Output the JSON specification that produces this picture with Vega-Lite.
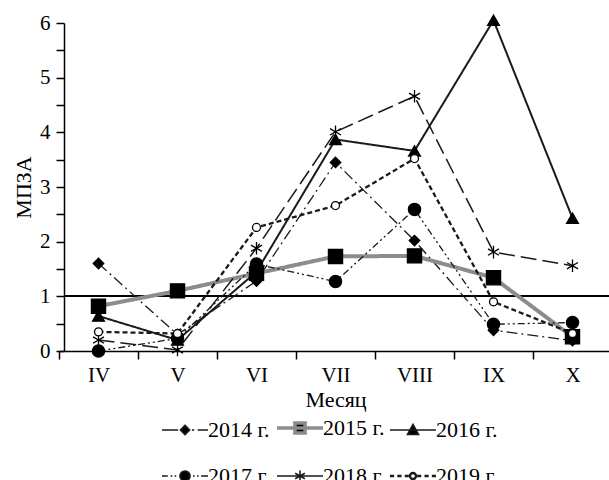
{
  "$schema": "https://vega.github.io/schema/vega-lite/v6.json",
  "width": 545,
  "height": 328,
  "autosize": {"type": "none"},
  "padding": {"left": 64, "top": 23, "right": 0, "bottom": 129},
  "background": "white",
  "config": {
    "view": {"stroke": null},
    "font": "Liberation Serif, Times New Roman, serif",
    "axis": {
      "domainColor": "black", "tickColor": "black", "labelColor": "black", "titleColor": "black",
      "domainWidth": 1.5, "tickWidth": 1.5, "tickSize": 8, "grid": false,
      "labelFont": "Liberation Serif, Times New Roman, serif", "titleFont": "Liberation Serif, Times New Roman, serif",
      "labelFontSize": 21, "titleFontSize": 22, "titleFontWeight": "normal"
    },
    "legend": {"labelFont": "Liberation Serif, Times New Roman, serif", "labelFontSize": 22, "labelColor": "black"}
  },
  "data": {"values": [
    {"month": "IV", "year": "2014 г.", "v": 1.6},
    {"month": "V", "year": "2014 г.", "v": 0.3},
    {"month": "VI", "year": "2014 г.", "v": 1.28},
    {"month": "VII", "year": "2014 г.", "v": 3.45},
    {"month": "VIII", "year": "2014 г.", "v": 2.02},
    {"month": "IX", "year": "2014 г.", "v": 0.38},
    {"month": "X", "year": "2014 г.", "v": 0.19},
    {"month": "IV", "year": "2015 г.", "v": 0.82},
    {"month": "V", "year": "2015 г.", "v": 1.1},
    {"month": "VI", "year": "2015 г.", "v": 1.42},
    {"month": "VII", "year": "2015 г.", "v": 1.73},
    {"month": "VIII", "year": "2015 г.", "v": 1.74},
    {"month": "IX", "year": "2015 г.", "v": 1.34},
    {"month": "X", "year": "2015 г.", "v": 0.26},
    {"month": "IV", "year": "2016 г.", "v": 0.64},
    {"month": "V", "year": "2016 г.", "v": 0.2},
    {"month": "VI", "year": "2016 г.", "v": 1.45},
    {"month": "VII", "year": "2016 г.", "v": 3.87},
    {"month": "VIII", "year": "2016 г.", "v": 3.66},
    {"month": "IX", "year": "2016 г.", "v": 6.05},
    {"month": "X", "year": "2016 г.", "v": 2.43},
    {"month": "IV", "year": "2017 г.", "v": 0.0},
    {"month": "V", "year": "2017 г.", "v": 0.23},
    {"month": "VI", "year": "2017 г.", "v": 1.59},
    {"month": "VII", "year": "2017 г.", "v": 1.27},
    {"month": "VIII", "year": "2017 г.", "v": 2.59},
    {"month": "IX", "year": "2017 г.", "v": 0.49},
    {"month": "X", "year": "2017 г.", "v": 0.52},
    {"month": "IV", "year": "2018 г.", "v": 0.2},
    {"month": "V", "year": "2018 г.", "v": 0.02},
    {"month": "VI", "year": "2018 г.", "v": 1.88},
    {"month": "VII", "year": "2018 г.", "v": 4.01},
    {"month": "VIII", "year": "2018 г.", "v": 4.66},
    {"month": "IX", "year": "2018 г.", "v": 1.81},
    {"month": "X", "year": "2018 г.", "v": 1.56},
    {"month": "IV", "year": "2019 г.", "v": 0.35},
    {"month": "V", "year": "2019 г.", "v": 0.32},
    {"month": "VI", "year": "2019 г.", "v": 2.26},
    {"month": "VII", "year": "2019 г.", "v": 2.66},
    {"month": "VIII", "year": "2019 г.", "v": 3.52},
    {"month": "IX", "year": "2019 г.", "v": 0.9},
    {"month": "X", "year": "2019 г.", "v": 0.32}
  ]},
  "encoding": {
    "x": {
      "field": "month", "type": "ordinal",
      "sort": ["IV", "V", "VI", "VII", "VIII", "IX", "X"],
      "scale": {"type": "band", "paddingInner": 0, "paddingOuter": 0, "range": [-5, 548]},
      "axis": {"title": "Месяц", "tickBand": "extent", "labelAngle": 0, "labelPadding": 5, "titlePadding": 4}
    },
    "y": {
      "field": "v", "type": "quantitative",
      "scale": {"domain": [0, 6], "nice": false, "zero": true},
      "axis": {
        "title": "МПЗА",
        "values": [0, 0.5, 1, 1.5, 2, 2.5, 3, 3.5, 4, 4.5, 5, 5.5, 6],
        "labelExpr": "datum.value % 1 == 0 ? format(datum.value, 'd') : ''",
        "labelPadding": 6, "titlePadding": 4
      }
    }
  },
  "layer": [
    {
      "mark": {"type": "rule", "color": "black", "strokeWidth": 1.5},
      "encoding": {"x": null, "y": {"datum": 1}}
    },
    {
      "mark": {"type": "line"},
      "encoding": {
        "color": {
          "field": "year", "type": "nominal",
          "scale": {"type": "ordinal", "domain": ["2014 г.", "2015 г.", "2016 г.", "2017 г.", "2018 г.", "2019 г."],
                    "range": ["#1a1a1a", "#8c8c8c", "#1a1a1a", "#1a1a1a", "#1a1a1a", "#1a1a1a"]},
          "legend": {
            "title": null,
            "orient": "none",
            "legendX": 110,
            "legendY": 394,
            "direction": "horizontal",
            "columns": 3,
            "columnPadding": 0,
            "rowPadding": 0,
            "symbolSize": 2116,
            "labelOffset": 12,
            "encode": {
              "symbols": {
                "update": {
                  "shape": {"signal": "'M0,-0.78M0,0.78' + (datum.value == '2014 г.' ? 'M-1,0L-0.3,0M0.3,0L0.4,0M0.55,0L1,0M0,-0.2L0.2,0L0,0.2L-0.2,0Z' : datum.value == '2015 г.' ? 'M-1,0L1,0M-0.22,-0.22L0.22,-0.22L0.22,0.22L-0.22,0.22Z' : datum.value == '2016 г.' ? 'M-1,0L1,0M0,-0.24L0.24,0.2L-0.24,0.2Z' : datum.value == '2017 г.' ? 'M-1,0L-0.75,0M-0.62,0L-0.55,0M-0.45,0L-0.38,0M0.35,0L0.42,0M0.52,0L0.59,0M0.7,0L1,0M0.22,0A0.22,0.22,0,1,1,-0.22,0A0.22,0.22,0,1,1,0.22,0Z' : datum.value == '2018 г.' ? 'M-1,0L1,0M0,-0.24L0,0.24M-0.21,-0.12L0.21,0.12M-0.21,0.12L0.21,-0.12' : 'M-1,0L-0.82,0M-0.68,0L-0.5,0M-0.36,0L-0.18,0M0.18,0L0.36,0M0.5,0L0.68,0M0.82,0L1,0M0.13,0A0.13,0.13,0,1,1,-0.13,0A0.13,0.13,0,1,1,0.13,0Z')"},
                  "fill": {"signal": "datum.value == '2019 г.' ? 'white' : 'black'"},
                  "stroke": {"signal": "datum.value == '2015 г.' ? '#8c8c8c' : 'black'"},
                  "strokeWidth": {"signal": "datum.value == '2015 г.' ? 3.5 : datum.value == '2019 г.' ? 2.3 : 1.6"},
                  "strokeDash": {"value": []},
                  "opacity": {"value": 1}
                }
              }
            }
          }
        },
        "strokeDash": {
          "field": "year", "type": "nominal",
          "scale": {"type": "ordinal", "domain": ["2019 г.", "2014 г.", "2015 г.", "2016 г.", "2017 г.", "2018 г."],
                    "range": [[5, 3], [11, 4, 2, 4], [1, 0], [1, 0], [7, 3, 2, 3, 2, 3], [16, 6]]},
          "legend": null
        },
        "strokeWidth": {
          "field": "year", "type": "nominal",
          "scale": {"type": "ordinal", "domain": ["2018 г.", "2019 г.", "2014 г.", "2015 г.", "2016 г.", "2017 г."],
                    "range": [1.5, 2.3, 1.3, 4, 2, 1.3]},
          "legend": null
        }
      }
    },
    {
      "mark": {"type": "point", "opacity": 1, "strokeWidth": 1.3},
      "encoding": {
        "shape": {
          "field": "year", "type": "nominal",
          "scale": {"type": "ordinal", "domain": ["2017 г.", "2018 г.", "2019 г.", "2014 г.", "2015 г.", "2016 г."],
                    "range": ["circle", "M0,-1L0,1M-0.87,-0.5L0.87,0.5M-0.87,0.5L0.87,-0.5", "circle", "diamond", "square", "triangle-up"]},
          "legend": null
        },
        "size": {
          "field": "year", "type": "nominal",
          "scale": {"type": "ordinal", "domain": ["2016 г.", "2017 г.", "2018 г.", "2019 г.", "2014 г.", "2015 г."],
                    "range": [140, 150, 160, 64, 110, 200]},
          "legend": null
        },
        "fill": {
          "field": "year", "type": "nominal",
          "scale": {"type": "ordinal", "domain": ["2015 г.", "2016 г.", "2017 г.", "2018 г.", "2019 г.", "2014 г."],
                    "range": ["black", "black", "black", "black", "white", "black"]},
          "legend": null
        },
        "stroke": {"value": "black"}
      }
    }
  ]
}
